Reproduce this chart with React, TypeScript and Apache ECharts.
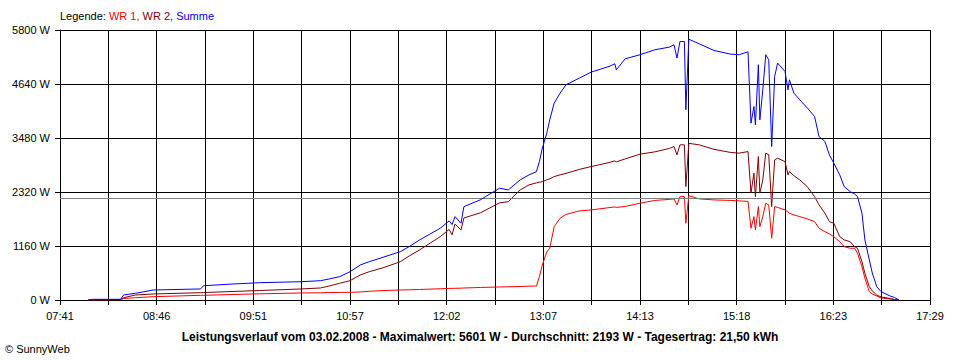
import React, { useEffect, useRef } from "react";
import * as echarts from "echarts";

// ---- data ----
const axisStart = "07:41";
const axisEnd = "17:29";
const timeTickLabels = ["07:41", "08:46", "09:51", "10:57", "12:02", "13:07", "14:13", "15:18", "16:23", "17:29"];
const yTicks = [0, 1160, 2320, 3480, 4640, 5800];

const seriesNames = ["WR 1", "WR 2", "Summe"];

const times = [
  "08:00", "08:03", "08:22", "08:24", "08:32", "08:44", "09:16", "09:18", "09:38", "09:56",
  "10:24", "10:37", "10:43", "10:50", "10:57", "11:04", "11:10", "11:20", "11:31", "11:37",
  "11:44", "11:58", "12:04", "12:06", "12:08", "12:12", "12:14", "12:25", "12:38", "12:44",
  "12:52", "12:58", "13:03", "13:05", "13:07", "13:10", "13:12", "13:15", "13:19", "13:23",
  "13:32", "13:40", "13:52", "13:56", "13:57", "14:03", "14:13", "14:23", "14:33", "14:36",
  "14:38", "14:40", "14:43", "14:44", "14:46", "14:53", "15:03", "15:14", "15:20", "15:26",
  "15:28", "15:30", "15:31", "15:33", "15:34", "15:36", "15:38", "15:40", "15:42", "15:44",
  "15:46", "15:51", "15:53", "15:54", "15:57", "16:01", "16:06", "16:11", "16:14", "16:18",
  "16:21", "16:24", "16:28", "16:31", "16:35", "16:38", "16:40", "16:43", "16:45", "16:48",
  "16:50", "16:53", "16:56", "17:02", "17:05", "17:08",
];

const summe = [
  0, 15, 15, 108, 144, 215, 237, 307, 344, 372,
  393, 415, 452, 501, 608, 753, 823, 925, 1038, 1146,
  1290, 1542, 1699, 1620, 1791, 1650, 2006, 2150, 2402, 2365,
  2580, 2688, 2758, 2973, 3262, 3584, 3870, 4229, 4444, 4623,
  4767, 4896, 5016, 5074, 4945, 5182, 5268, 5375, 5433, 5483,
  5197, 5553, 5553, 4085, 5601, 5504, 5360, 5283, 5268, 5332,
  3799, 4156, 3763, 5053, 3870, 4515, 5268, 5160, 3296, 4801,
  5089, 4909, 4515, 4730, 4444, 4300, 4128, 3941, 3511, 3404,
  3118, 2939, 2688, 2436, 2328, 2279, 2221, 1864, 1290, 860,
  581, 286, 178, 86, 54, 0,
];

const wr2 = [
  0, 0, 10, 49, 108, 129, 157, 161, 183, 204,
  237, 258, 301, 359, 415, 538, 608, 699, 823, 946,
  1075, 1361, 1516, 1400, 1634, 1505, 1763, 1871, 2086, 2113,
  2365, 2473, 2516, 2531, 2544, 2580, 2602, 2651, 2688, 2720,
  2806, 2866, 2952, 2988, 2967, 3032, 3133, 3182, 3257, 3296,
  3118, 3333, 3333, 2437, 3365, 3333, 3236, 3171, 3154, 3188,
  2298, 2725, 2221, 3081, 2298, 2580, 3154, 3122, 2006, 3010,
  3046, 2973, 2688, 2758, 2670, 2580, 2436, 2221, 2043, 1864,
  1684, 1649, 1361, 1290, 1253, 1146, 1112, 823, 574, 286,
  194, 108, 65, 32, 11, 0,
];

const wr1 = [
  0, 0, 5, 32, 49, 71, 101, 101, 118, 133,
  151, 155, 161, 163, 166, 172, 187, 204, 215, 219,
  226, 241, 249, 249, 252, 254, 258, 269, 280, 284,
  290, 297, 301, 501, 753, 1032, 1112, 1576, 1757, 1838,
  1914, 1935, 1984, 2000, 1989, 2010, 2079, 2139, 2161, 2172,
  2043, 2221, 2221, 1649, 2243, 2172, 2150, 2139, 2129, 2118,
  1542, 1791, 1505, 2006, 1576, 1791, 2079, 2043, 1327, 2006,
  1989, 1935, 1892, 1864, 1828, 1791, 1742, 1684, 1542, 1469,
  1419, 1361, 1253, 1146, 1112, 1112, 1004, 716, 467, 178,
  129, 86, 43, 22, 11, 0,
];

const maximalwert = 5601;
const durchschnitt = 2193;
const tagesertrag = "21,50";
const datum = "03.02.2008";

// ---- helpers ----
const toMin = (t: string) => {
  const [h, m] = t.split(":").map(Number);
  return h * 60 + m;
};
const startMin = toMin(axisStart);
const spanMin = toMin(axisEnd) - startMin; // 588
const GRID_STEPS = 18;
// x unit: thirds of a minute so that the grid interval is an integer
const X_MAX = spanMin * 3;
const X_INTERVAL = X_MAX / GRID_STEPS;
const toX = (t: string) => (toMin(t) - startMin) * 3;

const FONT = "'Liberation Sans', Arial, sans-serif";

export default function App() {
  const ref = useRef<HTMLDivElement>(null);
  useEffect(() => {
    if (!ref.current) return;
    const chart = echarts.init(ref.current, undefined, { renderer: "svg" });
    const mk = (vals: number[]) => times.map((t, i) => [toX(t), vals[i]]);
    const colors = ["#ff0000", "#800000", "#0000ff"];
    const lineData = [wr1, wr2, summe];
    const order = [1, 0, 2];
    chart.setOption({
      animation: false,
      backgroundColor: "#ffffff",
      textStyle: { fontFamily: FONT },
      grid: { left: 60, top: 30, width: 870, height: 270, containLabel: false },
      xAxis: {
        type: "value",
        min: 0,
        max: X_MAX,
        interval: X_INTERVAL,
        axisLine: { show: true, lineStyle: { color: "#000", width: 1 } },
        axisTick: { show: true, inside: false, length: 5, lineStyle: { color: "#000" } },
        splitLine: { show: true, lineStyle: { color: "#000", width: 1, type: "solid" } },
        axisLabel: {
          show: true,
          margin: 10,
          color: "#000",
          fontSize: 11,
          fontFamily: FONT,
          showMinLabel: true,
          showMaxLabel: true,
          formatter: (v: number) => {
            const idx = Math.round(v / X_INTERVAL);
            return idx % 2 === 0 ? timeTickLabels[idx / 2] ?? "" : "";
          },
        },
      },
      yAxis: {
        type: "value",
        min: yTicks[0],
        max: yTicks[yTicks.length - 1],
        interval: yTicks[1] - yTicks[0],
        axisLine: { show: true, lineStyle: { color: "#000", width: 1 } },
        axisTick: { show: true, inside: false, length: 5, lineStyle: { color: "#000" } },
        splitLine: { show: true, lineStyle: { color: "#000", width: 1, type: "solid" } },
        axisLabel: {
          margin: 10,
          color: "#000",
          fontSize: 11,
          fontFamily: FONT,
          formatter: (v: number) => `${Math.round(v)} W`,
        },
      },
      series: order.map((i) => ({
        name: seriesNames[i],
        type: "line",
        data: mk(lineData[i]),
        showSymbol: false,
        symbol: "none",
        smooth: false,
        lineStyle: { color: colors[i], width: 1 },
        itemStyle: { color: colors[i] },
        z: 3 + i,
        markLine:
          i === 2
            ? {
                silent: true,
                symbol: ["none", "none"],
                label: { show: false },
                lineStyle: { color: "#808080", width: 1, type: "solid" },
                data: [{ yAxis: durchschnitt }],
              }
            : undefined,
      })),
      graphic: [
        {
          type: "text",
          left: 60,
          top: 10,
          style: {
            text: `{k|Legende: }{a|${seriesNames[0]}, }{b|${seriesNames[1]}, }{c|${seriesNames[2]}}`,
            font: `11px ${FONT}`,
            rich: {
              k: { fill: "#000", fontSize: 11, fontFamily: FONT },
              a: { fill: colors[0], fontSize: 11, fontFamily: FONT },
              b: { fill: colors[1], fontSize: 11, fontFamily: FONT },
              c: { fill: colors[2], fontSize: 11, fontFamily: FONT },
            },
          },
        },
        {
          type: "text",
          x: 480,
          y: 337,
          style: {
            text: `Leistungsverlauf vom ${datum} - Maximalwert: ${maximalwert} W - Durchschnitt: ${durchschnitt} W - Tagesertrag: ${tagesertrag} kWh`,
            font: `bold 12px ${FONT}`,
            fill: "#000",
            align: "center",
            verticalAlign: "middle",
          },
        },
        {
          type: "text",
          x: 5,
          y: 349,
          style: {
            text: "© SunnyWeb",
            font: `11px ${FONT}`,
            fill: "#000",
            align: "left",
            verticalAlign: "middle",
          },
        },
      ],
    });
    return () => chart.dispose();
  }, []);
  return (
    <div
      ref={ref}
      style={{ position: "absolute", left: 0, top: 0, width: 960, height: 360, background: "#fff" }}
    />
  );
}
